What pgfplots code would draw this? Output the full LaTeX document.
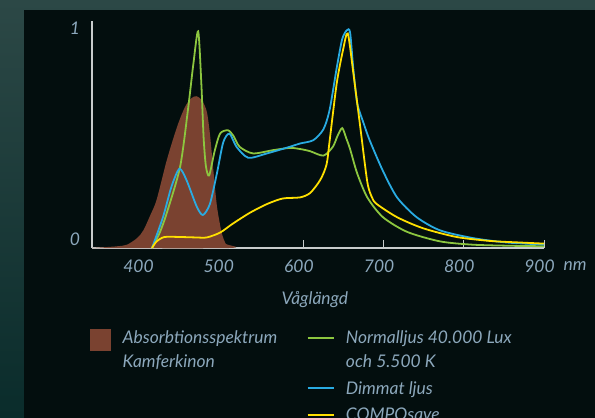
\documentclass[border=0pt]{standalone}
\usepackage{pgfplots}
\pgfplotsset{compat=1.18}
\usepackage{fontspec}
\setmainfont{Lato}
\definecolor{tealtop}{RGB}{44,72,70}
\definecolor{tealbot}{RGB}{10,44,43}
\definecolor{panel}{RGB}{3,14,14}
\definecolor{txt}{RGB}{140,168,188}
\definecolor{axl}{RGB}{200,204,204}
\definecolor{brownfill}{RGB}{122,66,48}
\definecolor{cgreen}{RGB}{140,198,63}
\definecolor{cblue}{RGB}{41,171,226}
\definecolor{cyellow}{RGB}{255,224,0}
\pgfplotsset{lineleg/.style={legend image code/.code={\draw[##1] (0bp,#1) -- (26bp,#1);}}}
\begin{document}
\begin{tikzpicture}
\path[use as bounding box] (-92bp,-170bp) rectangle (503bp,248bp);
\shade[top color=tealtop, bottom color=tealbot] (-92bp,-170bp) rectangle (503bp,248bp);
\fill[panel] (-68bp,-170bp) rectangle (503bp,238bp);
\begin{axis}[
  scale only axis,
  width=452bp, height=226.6bp,
  xmin=336.4, xmax=900, ymin=0, ymax=1.03,
  axis x line=bottom, axis y line=left,
  axis line style={-, axl, line width=1.1pt},
  xtick={400,500,600,700,800,900},
  xtick align=inside,
  major tick length=8bp,
  x tick style={axl, line width=1pt},
  ytick={0.041,1}, yticklabels={0,1},
  y tick style={draw=none},
  /pgf/number format/assume math mode=true,
  /pgf/number format/set thousands separator={},
  tick label style={font=\fontsize{17.5}{21}\selectfont\itshape, text=txt},
  xticklabel style={anchor=center, yshift=-18bp, xshift=-4.5bp},
  yticklabel style={anchor=center, xshift=-13bp},
  xlabel={Våglängd},
  xlabel style={at={(axis description cs:0.493,0)}, anchor=center, yshift=-52bp,
    font=\fontsize{17.5}{21}\selectfont\itshape, text=txt},
  legend columns=2,
  legend cell align=left,
  legend style={at={(axis description cs:-0.0044,-0.357)}, anchor=north west,
    draw=none, fill=none, inner sep=0pt,
    font=\fontsize{17.5}{24}\selectfont\itshape, text=txt,
    nodes={align=left, inner sep=1.5bp},
    /tikz/every odd column/.append style={column sep=10bp},
    /tikz/every even column/.append style={column sep=28bp},
    row sep=9bp},
  clip=false,
]
\addplot[fill=brownfill, draw=none, smooth, tension=0.5,
  legend image code/.code={\fill[brownfill] (0bp,-1bp) rectangle (21bp,21bp);}]
  coordinates {(336.4,0) (353.6,0.004) (368.2,0.008) (379.9,0.015) (392.6,0.045) (400.4,0.08)
  (409.2,0.15) (417,0.22) (429.7,0.40) (442.4,0.55) (452.2,0.64) (460,0.68) (466.8,0.69)
  (473.7,0.67) (479.5,0.62) (483.4,0.52) (487.3,0.37) (492.2,0.19) (498.1,0.07) (503,0.02)
  (506.9,0) (336.4,0)};
\addlegendentry{Absorbtionsspektrum\\Kamferkinon}
\addplot[cgreen, line width=1.8pt, smooth, tension=0.45, lineleg=12bp]
  coordinates {(411.2,0) (420.9,0.07) (429.7,0.16) (446.3,0.37) (456.1,0.63) (462.9,0.84)
  (468.8,0.985) (472.7,0.75) (475.6,0.50) (478.5,0.37) (482.5,0.33) (489.3,0.44) (496.1,0.52)
  (505.9,0.535) (512.7,0.51) (520.5,0.46) (537.1,0.43) (562.5,0.445) (583,0.455) (595.7,0.45)
  (608.4,0.44) (625,0.42) (636.7,0.46) (642.6,0.51) (648.4,0.545) (653.3,0.50) (658.2,0.45)
  (667,0.34) (679.7,0.23) (699.2,0.14) (729.5,0.073) (770.5,0.03) (811.5,0.015) (860,0.01)
  (900,0.008)};
\addlegendentry{Normalljus 40.000 Lux\\och 5.500 K}
\addlegendimage{empty legend}
\addlegendentry{}
\addplot[cblue, line width=1.8pt, smooth, tension=0.45, lineleg=0bp]
  coordinates {(411.2,0) (424.9,0.14) (435.6,0.28) (445.4,0.36) (454.1,0.31) (466.8,0.19)
  (474.6,0.15) (483.4,0.20) (492.2,0.34) (500,0.48) (507.8,0.52) (516.6,0.46) (531.3,0.41)
  (554.7,0.43) (583,0.46) (595.7,0.475) (612.3,0.49) (625,0.54) (632.8,0.63) (641.6,0.82)
  (648.4,0.95) (654.3,0.99) (658.2,0.98) (662.1,0.82) (667,0.66) (674.8,0.57) (682.6,0.49)
  (699.2,0.35) (716.8,0.23) (741.2,0.14) (770.5,0.08) (811.5,0.045) (853.5,0.025) (900,0.016)};
\addlegendentry{Dimmat ljus}
\addlegendimage{empty legend}
\addlegendentry{}
\addplot[cyellow, line width=1.8pt, smooth, tension=0.45, lineleg=0bp]
  coordinates {(411.2,0) (417,0.03) (426.8,0.05) (446.3,0.05) (465.9,0.048) (479.5,0.048)
  (496.1,0.07) (511.7,0.11) (533.2,0.16) (554.7,0.20) (574.2,0.225) (595.7,0.23) (608.4,0.25)
  (621.1,0.31) (628.9,0.38) (632.8,0.49) (641.6,0.75) (649.4,0.90) (655.3,0.975) (662.1,0.80)
  (670.9,0.55) (679.7,0.30) (685.5,0.23) (691.4,0.20) (716.8,0.14) (749,0.09) (791,0.05)
  (832.9,0.032) (870,0.025) (900,0.02)};
\addlegendentry{COMPOsave}
\node[text=txt, font=\fontsize{17.5}{21}\selectfont\itshape, anchor=center]
  at ([yshift=-18bp]axis description cs:1.0686,0) {nm};
\end{axis}
\end{tikzpicture}
\end{document}
